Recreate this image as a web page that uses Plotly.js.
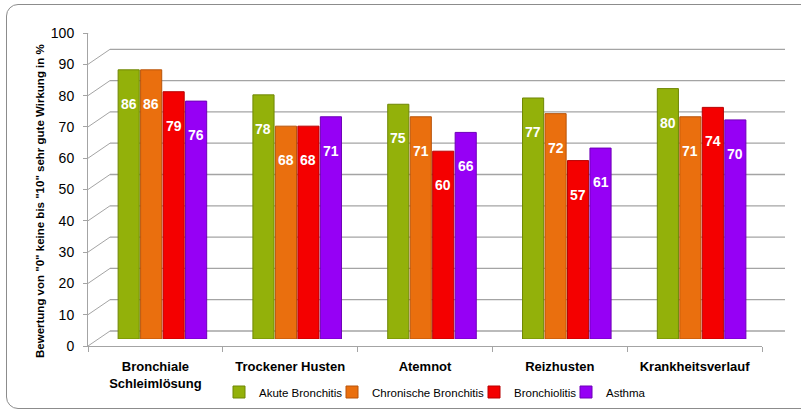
<!DOCTYPE html>
<html>
<head>
<meta charset="utf-8">
<script src="https://cdn.plot.ly/plotly-3.0.1.min.js"></script>
<style>
  html, body { margin: 0; padding: 0; background: #ffffff; overflow: hidden; }
  #wrap { position: relative; width: 801px; height: 412px; overflow: hidden; }
  #frame { position: absolute; left: 6px; top: 4px; width: 830px; height: 405px;
           border: 1px solid #8c8c8c; border-radius: 12px; box-sizing: border-box; }
  #chart { position: absolute; left: 0; top: 0; width: 801px; height: 412px; }
</style>
</head>
<body>
<div id="wrap">
  <div id="frame"></div>
  <div id="chart"></div>
</div>
<script>
// ---- data ----
const categories = ['Bronchiale<br>Schleimlösung', 'Trockener Husten', 'Atemnot', 'Reizhusten', 'Krankheitsverlauf'];
const seriesNames = ['Akute Bronchitis', 'Chronische Bronchitis', 'Bronchiolitis', 'Asthma'];
const akuteBronchitis = [86, 78, 75, 77, 80];
const chronischeBronchitis = [86, 68, 71, 72, 71];
const bronchiolitis = [79, 68, 60, 57, 74];
const asthma = [76, 71, 66, 61, 70];
const yTicks = [0, 10, 20, 30, 40, 50, 60, 70, 80, 90, 100];
const yTitle = 'Bewertung von "0" keine bis "10" sehr gute Wirkung in %';

// ---- styling ----
const colors = ['#93B10A', '#EA6F0E', '#F40000', '#9600F5'];
const edgeColors = ['#6F8705', '#B8540A', '#B80000', '#6E00B8'];
const seriesValues = [akuteBronchitis, chronischeBronchitis, bronchiolitis, asthma];
const bargap = 0.333;
const font = 'Liberation Sans, Arial, sans-serif';
const gridColor = '#A4A4A4';

// geometry (pixels)
const W = 801, H = 412;
const mL = 88, mR = 16, mT = 17, mB = 66;
const pw = W - mL - mR, ph = H - mT - mB;
const depthX = 22, depthY = 15;          // 3-D wall offset in px
const legendLeftPx = [219, 332, 474, 566];

const traces = [];
// invisible carrier so the front category axis gets its categories
traces.push({
  type: 'scatter', mode: 'markers', x: categories, y: categories.map(() => 0),
  xaxis: 'x', yaxis: 'y', marker: { opacity: 0 }, showlegend: false, hoverinfo: 'skip'
});
seriesValues.forEach((vals, i) => {
  traces.push({
    type: 'bar', name: seriesNames[i], x: categories, y: vals,
    xaxis: 'x2', yaxis: 'y2', legend: i === 0 ? 'legend' : 'legend' + (i + 1),
    marker: { color: colors[i], line: { color: edgeColors[i], width: 1 } },
    hoverinfo: 'y+name'
  });
});

const slot = (1 - bargap) / seriesValues.length;
const annotations = [];
seriesValues.forEach((vals, i) => {
  vals.forEach((v, j) => {
    annotations.push({
      xref: 'x2', yref: 'y2', x: j + (i - (seriesValues.length - 1) / 2) * slot, y: v,
      text: String(v), showarrow: false, yshift: -34, yanchor: 'middle',
      font: { family: font, size: 14, color: '#ffffff', weight: 'bold' }
    });
  });
});
annotations.push({
  xref: 'paper', yref: 'paper', x: (40 - mL) / pw, y: (mT + ph - 201) / ph,
  xanchor: 'center', yanchor: 'middle', textangle: -90, showarrow: false,
  text: yTitle, font: { family: font, size: 11.5, color: '#000000', weight: 'bold' }
});

// back-wall gridlines, side-wall diagonals and floor edge
const shapes = [];
yTicks.forEach(v => {
  shapes.push({
    type: 'line', layer: 'below', xref: 'paper', yref: 'y',
    ysizemode: 'pixel', yanchor: v, x0: depthX / pw, x1: 1, y0: depthY, y1: depthY,
    line: { color: gridColor, width: 1.3 }
  });
  shapes.push({
    type: 'line', layer: 'below', xref: 'paper', yref: 'y',
    xsizemode: 'pixel', ysizemode: 'pixel', xanchor: 0, yanchor: v,
    x0: 0, x1: depthX, y0: 0, y1: depthY, line: { color: gridColor, width: 1 }
  });
});
shapes.push({
  type: 'line', layer: 'below', xref: 'x', yref: 'y',
  xsizemode: 'pixel', ysizemode: 'pixel', xanchor: categories.length - 0.5, yanchor: 0,
  x0: 0, x1: depthX + 1, y0: 0, y1: depthY, line: { color: gridColor, width: 1 }
});

const legendBase = {
  orientation: 'h', xanchor: 'left', y: (mT + ph - 392) / ph, yanchor: 'middle',
  font: { family: font, size: 11.5, color: '#000000' }, itemwidth: 30,
  bgcolor: 'rgba(0,0,0,0)', borderwidth: 0
};

const layout = {
  width: W, height: H,
  margin: { l: mL, r: mR, t: mT, b: mB, pad: 0, autoexpand: false },
  paper_bgcolor: 'rgba(0,0,0,0)', plot_bgcolor: 'rgba(0,0,0,0)',
  font: { family: font, color: '#000000' },
  barmode: 'group', bargap: bargap, bargroupgap: 0.06,
  showlegend: true,
  legend: Object.assign({}, legendBase, { x: (legendLeftPx[0] - mL) / pw }),
  legend2: Object.assign({}, legendBase, { x: (legendLeftPx[1] - mL) / pw }),
  legend3: Object.assign({}, legendBase, { x: (legendLeftPx[2] - mL) / pw }),
  legend4: Object.assign({}, legendBase, { x: (legendLeftPx[3] - mL) / pw }),
  // front axes (labels)
  xaxis: {
    domain: [0, 674 / pw], anchor: 'y', type: 'category',
    categoryorder: 'array', categoryarray: categories, range: [-0.5, categories.length - 0.5],
    showline: true, linecolor: gridColor, linewidth: 1,
    ticks: 'outside', tickson: 'boundaries', ticklen: 5, tickcolor: gridColor,
    showgrid: false, zeroline: false, ticklabelstandoff: 8, automargin: false,
    tickfont: { family: font, size: 13, color: '#000000', weight: 'bold' }, fixedrange: true
  },
  yaxis: {
    domain: [0, 313 / ph], anchor: 'x', range: [0, 100], tickvals: yTicks,
    showline: true, linecolor: gridColor, linewidth: 1,
    ticks: 'outside', ticklen: 4, tickcolor: gridColor,
    showgrid: false, zeroline: false, ticklabelstandoff: 6, automargin: false,
    tickfont: { family: font, size: 14, color: '#000000' }, fixedrange: true
  },
  // bars
  xaxis2: {
    domain: [7 / pw, 681 / pw], anchor: 'y2', type: 'category',
    categoryorder: 'array', categoryarray: categories, range: [-0.5, categories.length - 0.5],
    visible: false, fixedrange: true
  },
  yaxis2: {
    domain: [7 / ph, 320 / ph], anchor: 'x2', range: [0, 100],
    visible: false, showgrid: false, zeroline: false, fixedrange: true
  },
  annotations: annotations,
  shapes: shapes
};

Plotly.newPlot('chart', traces, layout, { displayModeBar: false, staticPlot: true });
</script>
</body>
</html>
